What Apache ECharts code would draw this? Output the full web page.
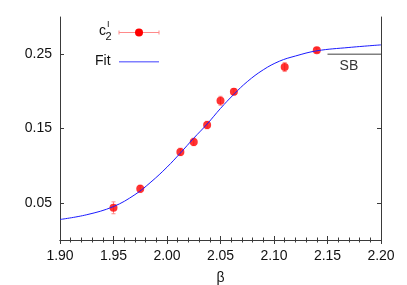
<!DOCTYPE html>
<html><head><meta charset="utf-8">
<script src="https://cdn.jsdelivr.net/npm/echarts@6/dist/echarts.min.js"></script>
<style>html,body{margin:0;padding:0;background:#fff}#c{width:407px;height:285px}</style>
</head><body><div id="c"></div>
<script>
// data
const beta   = [1.95, 1.975, 2.0125, 2.025, 2.0375, 2.05, 2.0625, 2.11, 2.14];
const c2     = [0.0433, 0.0688, 0.1185, 0.1319, 0.1547, 0.1873, 0.1994, 0.2326, 0.2554];
const c2err  = [0.008, 0.005, 0.005, 0.005, 0.005, 0.006, 0.004, 0.006, 0.003];
const fitBeta = [1.90, 1.925, 1.95, 1.97, 1.985, 2.00, 2.0125, 2.025, 2.0375, 2.05, 2.0625, 2.075, 2.09, 2.105, 2.12, 2.14, 2.17, 2.20];
const fitC2   = [0.0276, 0.034, 0.045, 0.061, 0.078, 0.098, 0.117, 0.137, 0.156, 0.177, 0.196, 0.213, 0.229, 0.2405, 0.2475, 0.2545, 0.259, 0.2625];
const sbBeta = [2.15, 2.20];
const sbValue = 0.25;
const sbLabelBeta = 2.17;
const yTickValues = [0.05, 0.15, 0.25];
const xMin = 1.90, xMax = 2.20, xStep = 0.05;
const yMin = 0, yMax = 0.30;

const font = 'Liberation Sans, Arial, sans-serif';
const axisCol = '#3a3a3a';

const chart = echarts.init(document.getElementById('c'), null, {renderer: 'canvas'});

const xAxisBase = {
  type: 'value', min: xMin, max: xMax, interval: xStep,
  axisLine: {show: true, lineStyle: {color: axisCol, width: 1}},
  axisTick: {show: true, inside: true, length: 4, lineStyle: {color: axisCol}},
  minorTick: {show: true, splitNumber: 5, length: 2.5, lineStyle: {color: axisCol}},
  splitLine: {show: false}
};
const yAxisBase = {
  type: 'value', min: yMin, max: yMax, interval: 0.05,
  axisLine: {show: true, lineStyle: {color: axisCol, width: 1}},
  axisTick: {show: true, inside: true, length: 4, customValues: yTickValues, lineStyle: {color: axisCol}},
  splitLine: {show: false}
};

const errData = beta.map((b, i) => [b, c2[i], c2err[i]]);

chart.setOption({
  animation: false,
  backgroundColor: '#fff',
  grid: {left: 60, right: 26, top: 17, bottom: 45, containLabel: false, outerBoundsMode: 'none'},
  xAxis: [
    Object.assign({}, xAxisBase, {
      position: 'bottom',
      name: 'β', nameLocation: 'middle', nameGap: 31,
      nameTextStyle: {fontFamily: font, fontSize: 14, color: '#111'},
      axisLabel: {show: true, margin: 9, fontFamily: font, fontSize: 14, color: '#111',
        formatter: v => v.toFixed(2)}
    }),
    Object.assign({}, xAxisBase, {position: 'top', axisLabel: {show: false}})
  ],
  yAxis: [
    Object.assign({}, yAxisBase, {
      position: 'left',
      axisLabel: {show: true, margin: 8, fontFamily: font, fontSize: 14, color: '#111',
        customValues: yTickValues, formatter: v => v.toFixed(2)}
    }),
    Object.assign({}, yAxisBase, {position: 'right', axisLabel: {show: false}})
  ],
  series: [
    {
      type: 'custom', name: 'err', z: 2,
      data: errData,
      renderItem: function (params, api) {
        const x = api.value(0), y = api.value(1), e = api.value(2);
        const p1 = api.coord([x, y + e]);
        const p2 = api.coord([x, y - e]);
        const cap = 2;
        const st = {stroke: '#ff8a8a', lineWidth: 1};
        return {type: 'group', children: [
          {type: 'line', shape: {x1: p1[0], y1: p1[1], x2: p2[0], y2: p2[1]}, style: st},
          {type: 'line', shape: {x1: p1[0] - cap, y1: p1[1], x2: p1[0] + cap, y2: p1[1]}, style: st},
          {type: 'line', shape: {x1: p2[0] - cap, y1: p2[1], x2: p2[0] + cap, y2: p2[1]}, style: st}
        ]};
      }
    },
    {
      type: 'scatter', name: 'c2', z: 3,
      data: beta.map((b, i) => [b, c2[i]]),
      symbol: 'circle', symbolSize: 8,
      itemStyle: {color: '#ff0000'}
    },
    {
      type: 'line', name: 'Fit', z: 4,
      data: fitBeta.map((b, i) => [b, fitC2[i]]),
      smooth: 0.4, showSymbol: false, symbol: 'none',
      lineStyle: {color: '#1a1aff', width: 1}
    },
    {
      type: 'line', name: 'SB', z: 3,
      data: sbBeta.map(b => [b, sbValue]),
      showSymbol: false, symbol: 'none',
      lineStyle: {color: '#808080', width: 1.5}
    },
    {
      type: 'scatter', name: 'SBlabel', z: 3,
      data: [[sbLabelBeta, sbValue]],
      symbolSize: 0, silent: true,
      label: {show: true, formatter: 'SB', position: 'bottom', distance: 5,
        fontFamily: font, fontSize: 14, color: '#000'}
    }
  ],
  graphic: [
    // legend: c2^I with error bar sample
    {type: 'text', left: 99, top: 24, style: {text: 'c', font: '14px ' + font, fill: '#111'}},
    {type: 'text', left: 107, top: 20, style: {text: 'I', font: '9px ' + font, fill: '#111'}},
    {type: 'text', left: 105.5, top: 31, style: {text: '2', font: '11px ' + font, fill: '#111'}},
    {type: 'line', shape: {x1: 119, y1: 32.5, x2: 159, y2: 32.5}, style: {stroke: '#ff8a8a', lineWidth: 1}},
    {type: 'line', shape: {x1: 119, y1: 30.5, x2: 119, y2: 34.5}, style: {stroke: '#ff8a8a', lineWidth: 1}},
    {type: 'line', shape: {x1: 159, y1: 30.5, x2: 159, y2: 34.5}, style: {stroke: '#ff8a8a', lineWidth: 1}},
    {type: 'circle', shape: {cx: 139, cy: 32.5, r: 4}, style: {fill: '#ff0000'}},
    // legend: Fit
    {type: 'text', left: 95, top: 54, style: {text: 'Fit', font: '14px ' + font, fill: '#111'}},
    {type: 'rect', z: 10, shape: {x: 119, y: 61, width: 40, height: 1.5}, style: {fill: '#7f7fff'}}
  ]
});
</script>
</body></html>
